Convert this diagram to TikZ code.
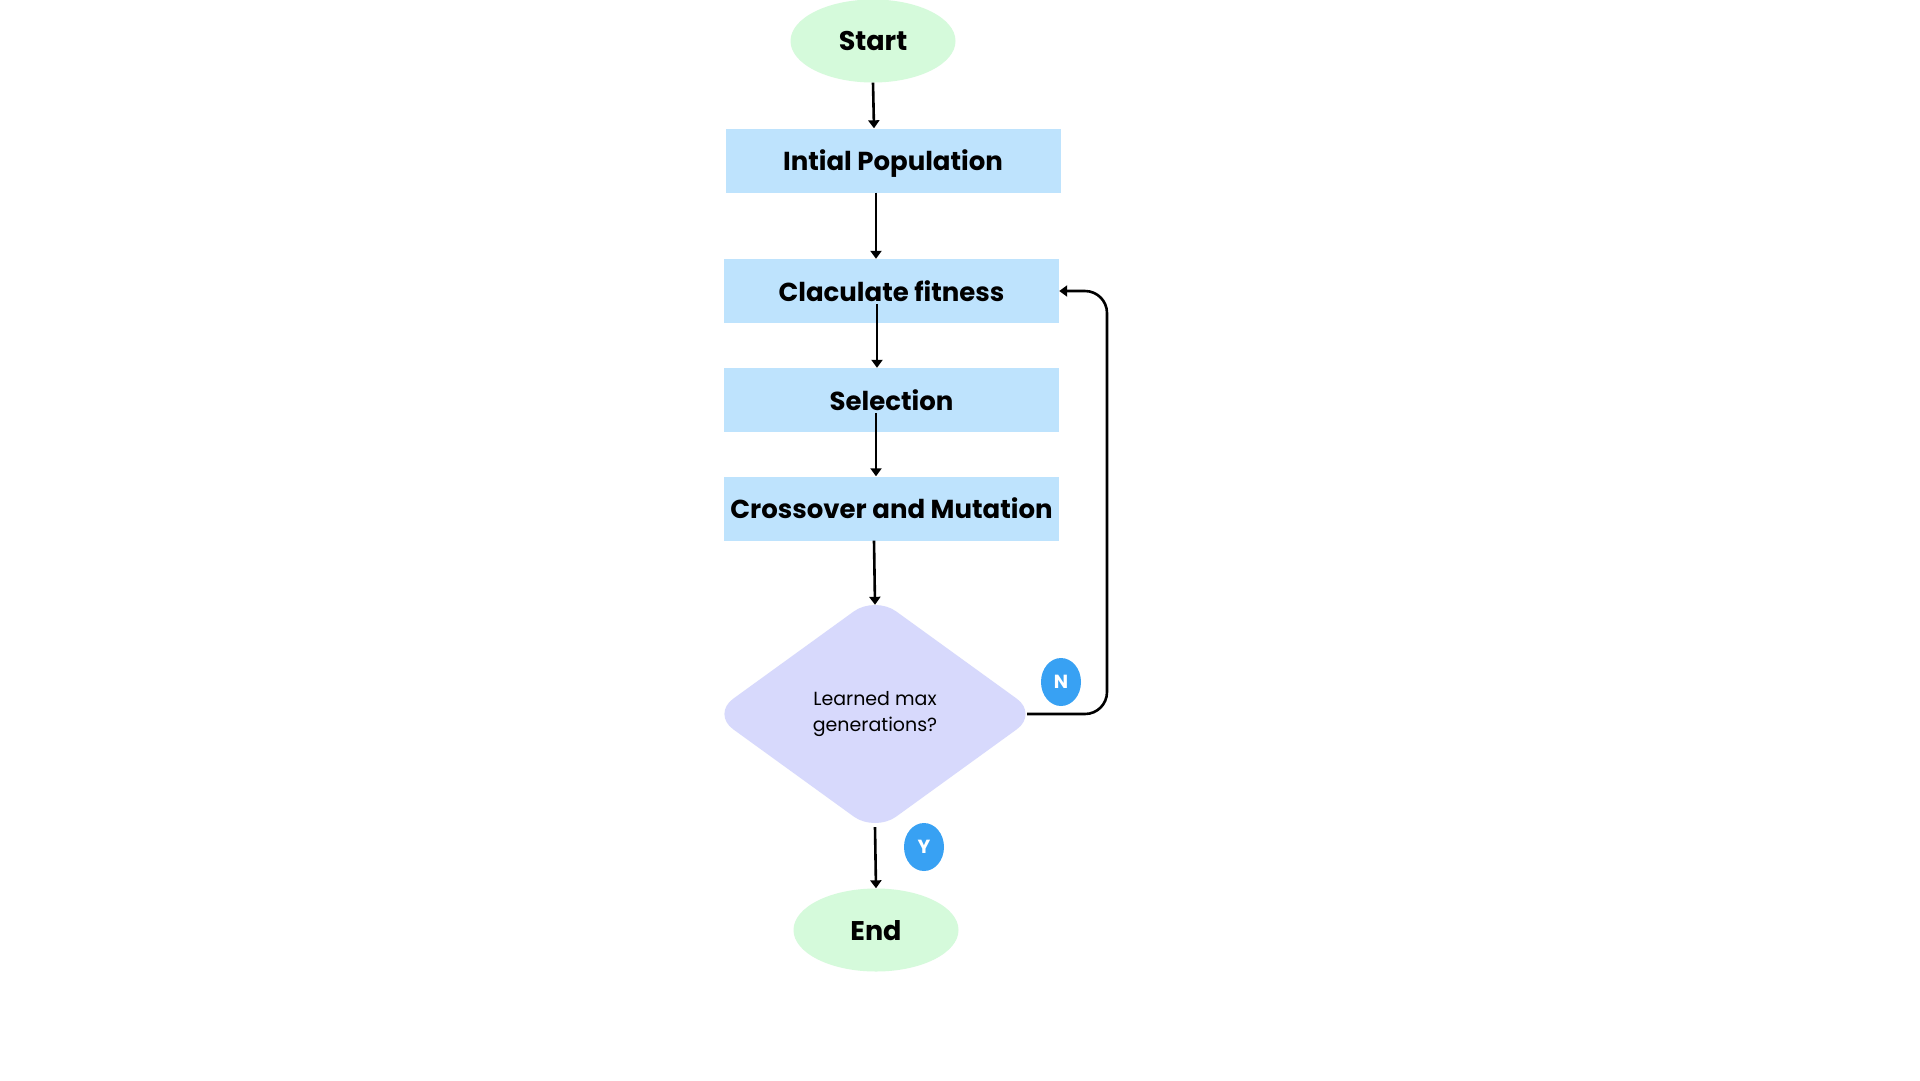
\documentclass[tikz,border=0pt]{standalone}
\usepackage{fontspec}
\setmainfont{Poppins}
\usetikzlibrary{shapes.geometric,arrows.meta}
\definecolor{termgreen}{RGB}{213,250,219}
\definecolor{procblue}{RGB}{190,227,253}
\definecolor{declav}{RGB}{215,217,252}
\definecolor{badgeblue}{RGB}{56,161,243}
\begin{document}
\begin{tikzpicture}[x=1pt,y=-1pt,
  term/.style={ellipse,fill=termgreen,minimum width=165pt,minimum height=83pt,inner sep=0pt,text depth=0pt,font=\fontsize{27}{30}\selectfont\bfseries},
  proc/.style={rectangle,fill=procblue,minimum width=335pt,minimum height=64pt,inner sep=0pt,text depth=0pt,font=\fontsize{26}{30}\selectfont\bfseries},
  dec/.style={diamond,fill=declav,minimum width=326pt,minimum height=236pt,inner sep=0pt,rounded corners=26pt,align=center,font=\fontsize{19}{26}\selectfont},
  badge/.style={ellipse,fill=badgeblue,minimum width=40pt,minimum height=48pt,inner sep=0pt,text depth=0pt,text=white,font=\fontsize{19}{20}\selectfont\bfseries},
  arr/.style={line width=2.6pt,-{Triangle[width=11pt,length=8pt]}}
]
\path[use as bounding box,fill=white] (0,0) rectangle (1920,1080);
\node[term] (start) at (873,41) {Start};
\node[proc] (init) at (893,160.5) {Intial Population};
\node[proc] (calc) at (891.5,291) {Claculate fitness};
\node[proc] (sel) at (891.5,400) {Selection};
\node[proc] (cross) at (891.5,508.5) {Crossover and Mutation};
\node[dec] (dec) at (875,714) {Learned max\\generations?};
\node[badge] (nb) at (1061,682) {N};
\node[badge] (yb) at (924,847) {Y};
\node[term] (end) at (876,930) {End};
\coordinate (loop) at (1107,500);
\draw[arr] (start.south) -- ([xshift=-19pt]init.north);
\draw[arr] ([xshift=-17pt]init.south) -- ([xshift=-15.5pt]calc.north);
\draw[arr] ([xshift=-14.5pt,yshift=19pt]calc.south) -- ([xshift=-14.5pt]sel.north);
\draw[arr] ([xshift=-15.5pt,yshift=19pt]sel.south) -- ([xshift=-15.5pt]cross.north);
\draw[arr] ([xshift=-17.5pt]cross.south) -- ([yshift=-9pt]dec.north);
\draw[arr] ([yshift=5pt]dec.south) -- (end.north);
\draw[arr,rounded corners=22pt] ([xshift=-11pt]dec.east) -| (loop) |- (calc.east);
\end{tikzpicture}
\end{document}
